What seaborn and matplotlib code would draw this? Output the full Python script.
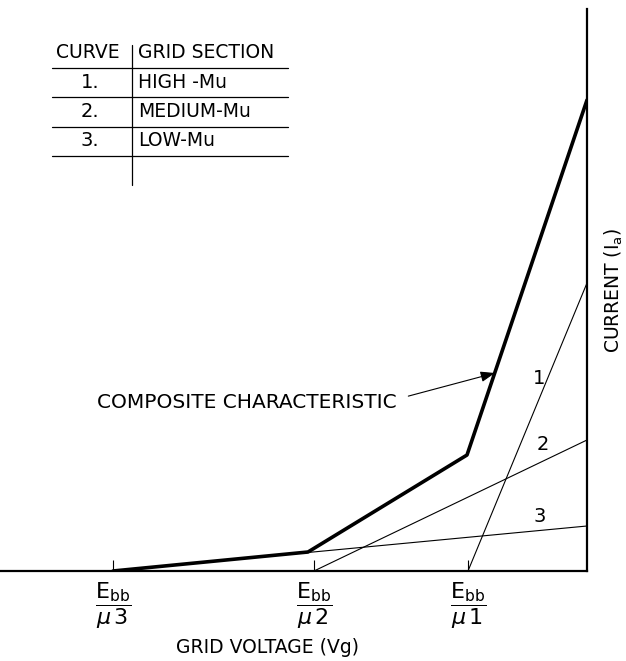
import pandas as pd
import matplotlib
matplotlib.use("Agg")
import matplotlib.pyplot as plt
from matplotlib.lines import Line2D
import seaborn as sns

# grid voltage (0 at the current axis) vs plate current, arbitrary units
vg_line1 = [-119, 0]
ia_line1 = [0, 288]
vg_line2 = [-273, 0]
ia_line2 = [0, 131]
vg_line3 = [-474, 0]
ia_line3 = [0, 45]
vg_comp = [-474, -279, -120, 0]
ia_comp = [0, 19, 116, 471]

cutoff_vg = [-474, -273, -119]
cutoff_labels = [r"$\dfrac{\mathrm{E_{bb}}}{\mu\,3}$",
                 r"$\dfrac{\mathrm{E_{bb}}}{\mu\,2}$",
                 r"$\dfrac{\mathrm{E_{bb}}}{\mu\,1}$"]

curve_names = ["1", "2", "3"]
curve_label_pos = [(-48, 193), (-44, 126), (-47, 54)]

table_curves = ["1.", "2.", "3."]
table_sections = ["HIGH -Mu", "MEDIUM-Mu", "LOW-Mu"]

sns.set_theme(style="white")
plt.rcParams["font.family"] = ["DejaVu Sans"]
plt.rcParams["mathtext.fontset"] = "dejavusans"
plt.rcParams["text.color"] = "black"
plt.rcParams["axes.labelcolor"] = "black"
plt.rcParams["xtick.color"] = "black"

W, H = 626, 661
fig = plt.figure(figsize=(W / 100, H / 100), dpi=100)
ax = fig.add_axes([0, 90 / H, 587 / W, 562 / H])


def px(x, y):
    return x / W, 1 - y / H


df1 = pd.DataFrame({"vg": vg_line1, "ia": ia_line1})
df2 = pd.DataFrame({"vg": vg_line2, "ia": ia_line2})
df3 = pd.DataFrame({"vg": vg_line3, "ia": ia_line3})
dfc = pd.DataFrame({"vg": vg_comp, "ia": ia_comp})

for d in (df1, df2, df3):
    sns.lineplot(data=d, x="vg", y="ia", color="black", lw=0.8, ax=ax)
sns.lineplot(data=dfc, x="vg", y="ia", color="black", lw=2.6, ax=ax)

ax.set_xlim(-587, 0)
ax.set_ylim(0, 562)

for s in ["left", "top"]:
    ax.spines[s].set_visible(False)
for s in ["right", "bottom"]:
    ax.spines[s].set_color("black")
    ax.spines[s].set_linewidth(1.6)

ax.set_yticks([])
ax.set_xticks(cutoff_vg, cutoff_labels)
ax.tick_params(axis="x", direction="in", length=8, width=0.8, color="black",
               labelcolor="black", labelsize=16, pad=7, bottom=True)

ax.yaxis.set_label_position("right")
ax.set_ylabel(r"CURRENT ($\mathrm{I_a}$)", fontsize=13.5, rotation=90,
              labelpad=11, color="black")
ax.set_xlabel("GRID VOLTAGE (Vg)", fontsize=13.5, color="black")
ax.xaxis.set_label_coords(268 / 587, (571 - 638) / 562)

for name, (x, y) in zip(curve_names, curve_label_pos):
    ax.text(x, y, name, fontsize=14, ha="center", va="center", color="black")

ax.annotate("COMPOSITE CHARACTERISTIC", xy=(-92, 198), xytext=(-190, 169),
            fontsize=14.5, ha="right", va="center", color="black",
            arrowprops=dict(arrowstyle="-|>,head_length=0.6,head_width=0.22",
                            color="black", lw=0.8, relpos=(1, 0.65),
                            shrinkA=6, shrinkB=0))

# curve / grid section table
fig.text(*px(88, 53), "CURVE", fontsize=13.5, ha="center", va="center")
fig.text(*px(138, 53), "GRID SECTION", fontsize=13.5, ha="left", va="center")
for i, (c, s) in enumerate(zip(table_curves, table_sections)):
    yy = 83 + 28.5 * i
    fig.text(*px(90, yy), c, fontsize=14, ha="center", va="center")
    fig.text(*px(138, yy), s, fontsize=13.5, ha="left", va="center")

for yy in [68, 97, 127, 156]:
    x0, y0 = px(52, yy)
    x1, _ = px(288, yy)
    fig.add_artist(Line2D([x0, x1], [y0, y0], color="black", lw=0.9))
xa, ya = px(132, 45)
_, yb = px(132, 185)
fig.add_artist(Line2D([xa, xa], [ya, yb], color="black", lw=0.9))

fig.savefig("out.png", dpi=100)
